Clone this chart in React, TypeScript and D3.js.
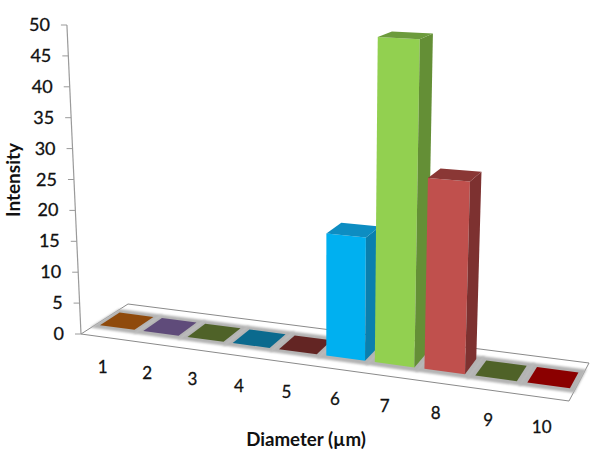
import React from "react";
import * as d3 from "d3";

const categories = ["1", "2", "3", "4", "5", "6", "7", "8", "9", "10"];
const intensity = [0, 0, 0, 0, 0, 19, 50, 29, 0, 0];
const frontColors = ["#984807", "#5f4b7a", "#4f6228", "#0b6a8e", "#632523", "#00b0f0", "#92d050", "#c0504d", "#4f6228", "#8b0000"];
const sideColors = ["#984807", "#5f4b7a", "#4f6228", "#0b6a8e", "#632523", "#0a7fae", "#648f36", "#7d3130", "#4f6228", "#8b0000"];
const topColors = ["#8f4a0c", "#5f4b7a", "#4f6228", "#0b6a8e", "#632523", "#0d8dc2", "#6c9b3c", "#8a3735", "#4f6228", "#8b0000"];

const width = 600;
const height = 460;

// floor corners: front-left, front-right, back-right, back-left
const [p0, p1, p2, p3] = [[81, 334], [569, 401], [589, 363], [128, 304]];
const dx1 = p1[0] - p2[0], dx2 = p3[0] - p2[0], sx = p0[0] - p1[0] + p2[0] - p3[0];
const dy1 = p1[1] - p2[1], dy2 = p3[1] - p2[1], sy = p0[1] - p1[1] + p2[1] - p3[1];
const den = dx1 * dy2 - dx2 * dy1;
const g = (sx * dy2 - dx2 * sy) / den;
const h = (dx1 * sy - sx * dy1) / den;
const a = p1[0] - p0[0] + g * p1[0], b = p3[0] - p0[0] + h * p3[0];
const d = p1[1] - p0[1] + g * p1[1], e = p3[1] - p0[1] + h * p3[1];

const yScale = d3.scaleLinear().domain([0, 50]).range([0, 309]);
const xBand = d3.scaleBand<string>().domain(categories).range([0, 1]).paddingInner(0.2).paddingOuter(0.1);

// u across the floor, v into the floor, value up
function project(u: number, v: number, value: number): [number, number] {
  const w = g * u + h * v + 1;
  const fx = (a * u + b * v + p0[0]) / w;
  const fy = (d * u + e * v + p0[1]) / w;
  const up = yScale(value) / w;
  return [fx + (fx - 326) * 0.000186 * up, fy - up];
}

const depthFront = 0.3;
const depthBack = 0.72;
const line = d3.line();
const quad = (pts: [number, number][]) => line(pts) + "Z";
const font = "Lato, 'Open Sans', sans-serif";

export default function App() {
  const axisTicks = yScale.ticks(10);
  return (
    <svg width={width} height={height} style={{ position: "absolute", left: 0, top: 0, background: "#fff" }} fontFamily={font}>
      <defs>
        <filter id="soft" x="-20%" y="-20%" width="140%" height="140%">
          <feGaussianBlur stdDeviation="1.2" />
        </filter>
      </defs>
      <path d={quad([project(0, 0, 0), project(1, 0, 0), project(1, 1, 0), project(0, 1, 0)])} fill="#fff" stroke="#8a8a8a" strokeWidth={1} />
      <line x1={project(0, 0, 0)[0]} y1={project(0, 0, 0)[1]} x2={project(0, 0, 50)[0]} y2={project(0, 0, 50)[1]} stroke="#9a9a9a" strokeWidth={1.2} />
      {axisTicks.map((t) => {
        const [x, y] = project(0, 0, t);
        return (
          <g key={t}>
            <line x1={x - 6} x2={x} y1={y} y2={y} stroke="#9a9a9a" />
            <text x={x - 17} y={y + 6} textAnchor="end" fontSize={18} fill="#111" stroke="#111" strokeWidth={0.3}>{t}</text>
          </g>
        );
      })}
      {categories.map((c) => {
        const u0 = xBand(c)!;
        const u1 = u0 + xBand.bandwidth();
        return (
          <path key={c} d={quad([project(u0 - 0.012, depthFront - 0.1, 0), project(u1 + 0.012, depthFront - 0.1, 0), project(u1 + 0.012, depthBack + 0.1, 0), project(u0 - 0.012, depthBack + 0.1, 0)])} fill="#b4b4b4" filter="url(#soft)" />
        );
      })}
      {categories.map((c, i) => {
        const u0 = xBand(c)!;
        const u1 = u0 + xBand.bandwidth();
        const val = intensity[i];
        return (
          <g key={c}>
            {val > 0 && (
              <>
                <path d={quad([project(u0, depthFront, 0), project(u1, depthFront, 0), project(u1, depthFront, val), project(u0, depthFront, val)])} fill={frontColors[i]} />
                <path d={quad([project(u1, depthFront, 0), project(u1, depthBack, 0), project(u1, depthBack, val), project(u1, depthFront, val)])} fill={sideColors[i]} />
              </>
            )}
            <path d={quad([project(u0, depthFront, val), project(u1, depthFront, val), project(u1, depthBack, val), project(u0, depthBack, val)])} fill={topColors[i]} />
          </g>
        );
      })}
      {categories.map((c) => {
        const [x, y] = project(xBand(c)! + xBand.bandwidth() / 2, 0, 0);
        return <text key={c} x={x} y={y + 36} textAnchor="middle" fontSize={17} fill="#111" stroke="#111" strokeWidth={0.3}>{c}</text>;
      })}
      <text transform="translate(20,180) rotate(-90)" textAnchor="middle" fontSize={19} fontWeight={700} fill="#111">Intensity</text>
      <text x={306} y={446} textAnchor="middle" fontSize={18.7} fontWeight={700} fill="#111">Diameter (µm)</text>
    </svg>
  );
}
